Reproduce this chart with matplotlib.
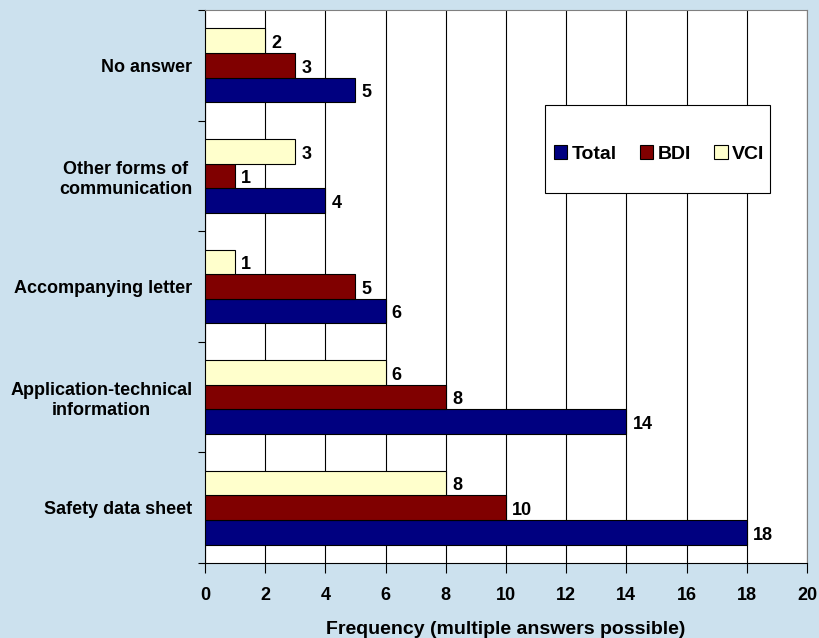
import numpy as np
import matplotlib.pyplot as plt
from matplotlib.patches import Rectangle

plt.rcParams['font.family'] = ['Liberation Sans', 'DejaVu Sans']
plt.rcParams['font.weight'] = 'bold'

# survey answers, listed bottom to top
categories = ['Safety data sheet', 'Application-technical\ninformation',
              'Accompanying letter', 'Other forms of\ncommunication', 'No answer']
total = [18, 14, 6, 4, 5]
bdi = [10, 8, 5, 1, 3]
vci = [8, 6, 1, 3, 2]

bg = '#cce1ee'
fs = 13
fig = plt.figure(figsize=(8.19, 6.38), dpi=100, facecolor=bg)
ax = fig.add_axes([0.2503, 0.1176, 0.7350, 0.8667])
ax.set_facecolor('white')

y = np.arange(len(categories))
h = 0.222
series = [(total, -h, '#000080', 'Total'),
          (bdi, 0.0, '#800000', 'BDI'),
          (vci, h, '#ffffcc', 'VCI')]
for vals, off, col, name in series:
    bars = ax.barh(y + off, vals, height=h, color=col, edgecolor='black',
                   linewidth=0.8, label=name, zorder=3)
    for b, v in zip(bars, vals):
        ax.annotate(str(v), (b.get_width(), b.get_y() + b.get_height() / 2),
                    xytext=(4.5, -2), textcoords='offset points',
                    ha='left', va='center', fontsize=fs, fontweight='bold')

ax.set_xlim(0, 20)
ax.set_ylim(-0.5, len(categories) - 0.5)
ax.set_xticks(np.arange(0, 21, 2))
ax.set_yticks(np.arange(-0.5, len(categories), 1.0))
ax.set_yticklabels([])
ax.set_yticks(y, minor=True)
ax.set_yticklabels(categories, minor=True, fontsize=fs, fontweight='bold',
                   multialignment='center')
ax.tick_params(axis='y', which='minor', length=0, pad=9)
ax.tick_params(axis='y', which='major', direction='out', length=5, width=0.8)
ax.tick_params(axis='x', direction='out', length=7, width=0.8, pad=10,
               labelsize=fs)
for t in ax.get_xticklabels():
    t.set_fontweight('bold')

ax.grid(axis='x', color='black', linewidth=0.8, zorder=0)
for s in ['top', 'right']:
    ax.spines[s].set_color('#808080')
for s in ['left', 'bottom']:
    ax.spines[s].set_color('black')
    ax.spines[s].set_linewidth(0.8)

ax.set_xlabel('Frequency (multiple answers possible)', fontsize=14,
              fontweight='bold', labelpad=12.5)

# legend box drawn separately so it can be taller than its one row
ax.add_patch(Rectangle((0.565, 0.669), 0.374, 0.159, transform=ax.transAxes,
                       facecolor='white', edgecolor='black', linewidth=0.8,
                       zorder=5))
handles, labels = ax.get_legend_handles_labels()
leg = ax.legend(handles, labels, loc='center', ncol=3,
                bbox_to_anchor=(0.754, 0.740), frameon=False,
                handlelength=0.7, handleheight=0.7,
                handletextpad=0.2, columnspacing=1.2, fontsize=14)
leg.set_zorder(6)

fig.savefig('out.png', dpi=100, facecolor=bg)
